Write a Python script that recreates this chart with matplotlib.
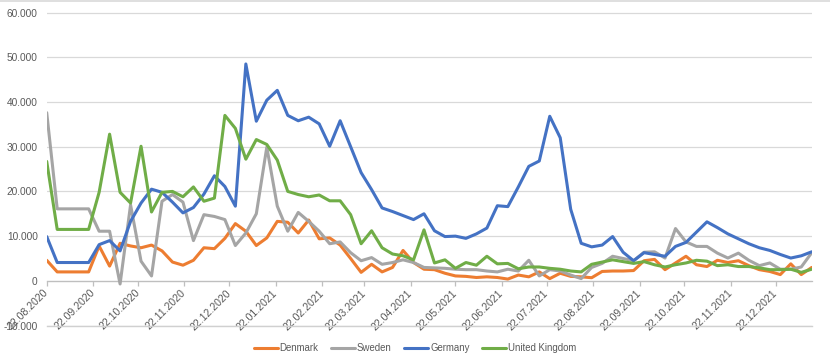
import datetime as dt
import matplotlib
matplotlib.use("Agg")
import matplotlib.pyplot as plt
import matplotlib.dates as mdates
from matplotlib.ticker import FuncFormatter
from matplotlib.lines import Line2D

# weekly values, starting 22.08.2020 (thousands)
start = dt.date(2020, 8, 22)
denmark = [4.6, 2.0, 2.0, 2.0, 2.0, 7.8, 3.3, 8.4, 7.8, 7.4,
           8.0, 6.7, 4.2, 3.5, 4.6, 7.4, 7.2, 9.5, 12.8, 11.1,
           7.9, 9.6, 13.3, 13.1, 10.7, 13.6, 9.4, 9.6, 8.0, 5.0,
           1.9, 3.7, 2.0, 3.0, 6.8, 4.1, 2.6, 2.5, 1.7, 1.1,
           1.0, 0.75, 0.9, 0.75, 0.4, 1.3, 0.9, 2.0, 0.5, 1.7,
           1.0, 0.9, 0.7, 2.1, 2.2, 2.2, 2.3, 4.5, 4.8, 2.5,
           4.0, 5.5, 3.6, 3.2, 4.6, 4.1, 4.5, 3.4, 2.5, 2.1,
           1.4, 3.8, 1.4, 3.0]
sweden = [37.6, 16.1, 16.1, 16.1, 16.1, 11.1, 11.1, -0.7, 17.0, 4.4,
          1.1, 17.8, 19.3, 17.6, 9.0, 14.8, 14.4, 13.7, 7.9, 10.7,
          15.0, 29.9, 16.7, 11.1, 15.3, 13.3, 11.1, 8.3, 8.7, 6.3,
          4.5, 5.2, 3.7, 4.1, 4.7, 4.1, 3.0, 2.9, 2.8, 2.6,
          2.5, 2.5, 2.2, 2.0, 2.6, 2.2, 4.6, 1.1, 2.5, 2.2,
          1.3, 0.5, 3.0, 3.9, 5.5, 5.0, 4.5, 6.4, 6.5, 5.1,
          11.7, 8.7, 7.7, 7.7, 6.2, 5.1, 6.2, 4.6, 3.4, 4.0,
          2.6, 2.6, 3.1, 6.3]
germany = [9.9, 4.1, 4.1, 4.1, 4.1, 8.1, 9.0, 6.7, 13.3, 17.4,
           20.5, 19.8, 17.6, 15.2, 16.4, 19.4, 23.5, 21.1, 16.7, 48.5,
           35.7, 40.4, 42.6, 37.0, 35.8, 36.6, 35.1, 30.1, 35.8, 30.0,
           24.2, 20.4, 16.3, 15.5, 14.6, 13.7, 15.0, 11.2, 9.9, 10.0,
           9.5, 10.5, 11.8, 16.8, 16.6, 21.0, 25.6, 26.8, 36.8, 32.0,
           16.0, 8.4, 7.6, 8.0, 9.9, 6.4, 4.5, 6.3, 5.9, 5.5,
           7.7, 8.6, 10.9, 13.2, 11.9, 10.5, 9.4, 8.3, 7.4, 6.8,
           5.9, 5.1, 5.6, 6.5]
uk = [26.7, 11.5, 11.5, 11.5, 11.5, 19.8, 32.8, 19.8, 17.4, 30.1,
      15.4, 19.8, 20.0, 18.8, 21.0, 17.8, 18.5, 37.0, 34.1, 27.2,
      31.6, 30.5, 27.0, 20.0, 19.3, 18.8, 19.2, 17.9, 17.9, 14.8,
      8.3, 11.2, 7.4, 6.0, 5.6, 4.7, 11.4, 4.0, 4.7, 2.8,
      4.1, 3.5, 5.5, 3.8, 3.9, 2.7, 3.1, 3.1, 2.8, 2.6,
      2.2, 2.0, 3.7, 4.2, 4.7, 4.3, 3.9, 4.3, 3.6, 3.1,
      3.6, 4.0, 4.6, 4.4, 3.4, 3.6, 3.2, 3.2, 2.9, 2.5,
      2.5, 2.6, 1.9, 2.6]

y_ticks = [-10000, 0, 10000, 20000, 30000, 40000, 50000, 60000]

series = [("Denmark", denmark, "#ED7D31"),
          ("Sweden", sweden, "#A5A5A5"),
          ("Germany", germany, "#4472C4"),
          ("United Kingdom", uk, "#70AD47")]

dates = [start + dt.timedelta(days=7 * i) for i in range(len(denmark))]
tick_dates = []
y, m = 2020, 8
while dt.date(y, m, 22) <= dates[-1]:
    tick_dates.append(dt.date(y, m, 22))
    m += 1
    if m > 12:
        m, y = 1, y + 1

plt.rcParams['font.family'] = ['Liberation Sans', 'DejaVu Sans']
text_col = "#595959"
grid_col = "#D9D9D9"

fig = plt.figure(figsize=(8.3, 3.62), dpi=100)
ax = fig.add_axes([0.0563, 0.0994, 0.9217, 0.8666])

for name, vals, col in series:
    ax.plot(dates, [v * 1000 for v in vals], color=col, lw=2.2, label=name,
            solid_joinstyle='round', solid_capstyle='round')

ax.set_ylim(-10100, 60050)
ax.set_xlim(dates[0], dates[-1])
ax.set_yticks(y_ticks)
ax.yaxis.set_major_formatter(FuncFormatter(lambda v, p: f"{v:,.0f}".replace(",", ".")))
ax.grid(axis='y', color=grid_col, lw=0.9)
# bottom gridline sits on the axes edge, draw it explicitly
ax.axhline(y_ticks[0], color="#D0D0D0", lw=1.0, zorder=2, clip_on=False)
ax.set_axisbelow(True)

for s in ['top', 'right', 'left']:
    ax.spines[s].set_visible(False)
ax.spines['bottom'].set_position(('data', 0))
ax.spines['bottom'].set_color("#BFBFBF")
ax.spines['bottom'].set_linewidth(0.9)
ax.spines['bottom'].set_zorder(1)

ax.set_xticks(tick_dates)
ax.xaxis.set_major_formatter(mdates.DateFormatter("%d.%m.%Y"))
ax.tick_params(axis='x', direction='out', length=3.5, width=0.9, color="#BFBFBF",
               labelsize=7.6, labelcolor=text_col, pad=4)
ax.tick_params(axis='y', length=0, labelsize=7.3, labelcolor=text_col, pad=6.5)
for lab in ax.get_xticklabels():
    lab.set_rotation(45)
    lab.set_ha('right')
    lab.set_va('center')
    lab.set_rotation_mode('anchor')

ax.legend(loc='center', bbox_to_anchor=(0.5, 0.038), bbox_transform=fig.transFigure,
          ncol=4, frameon=False, fontsize=6.9, labelcolor=text_col,
          handlelength=2.5, handletextpad=0.2, columnspacing=1.3)

fig.add_artist(Line2D([0, 1], [0.998, 0.998], color=grid_col, lw=1.2,
                      transform=fig.transFigure))

fig.savefig("out.png", dpi=100)
